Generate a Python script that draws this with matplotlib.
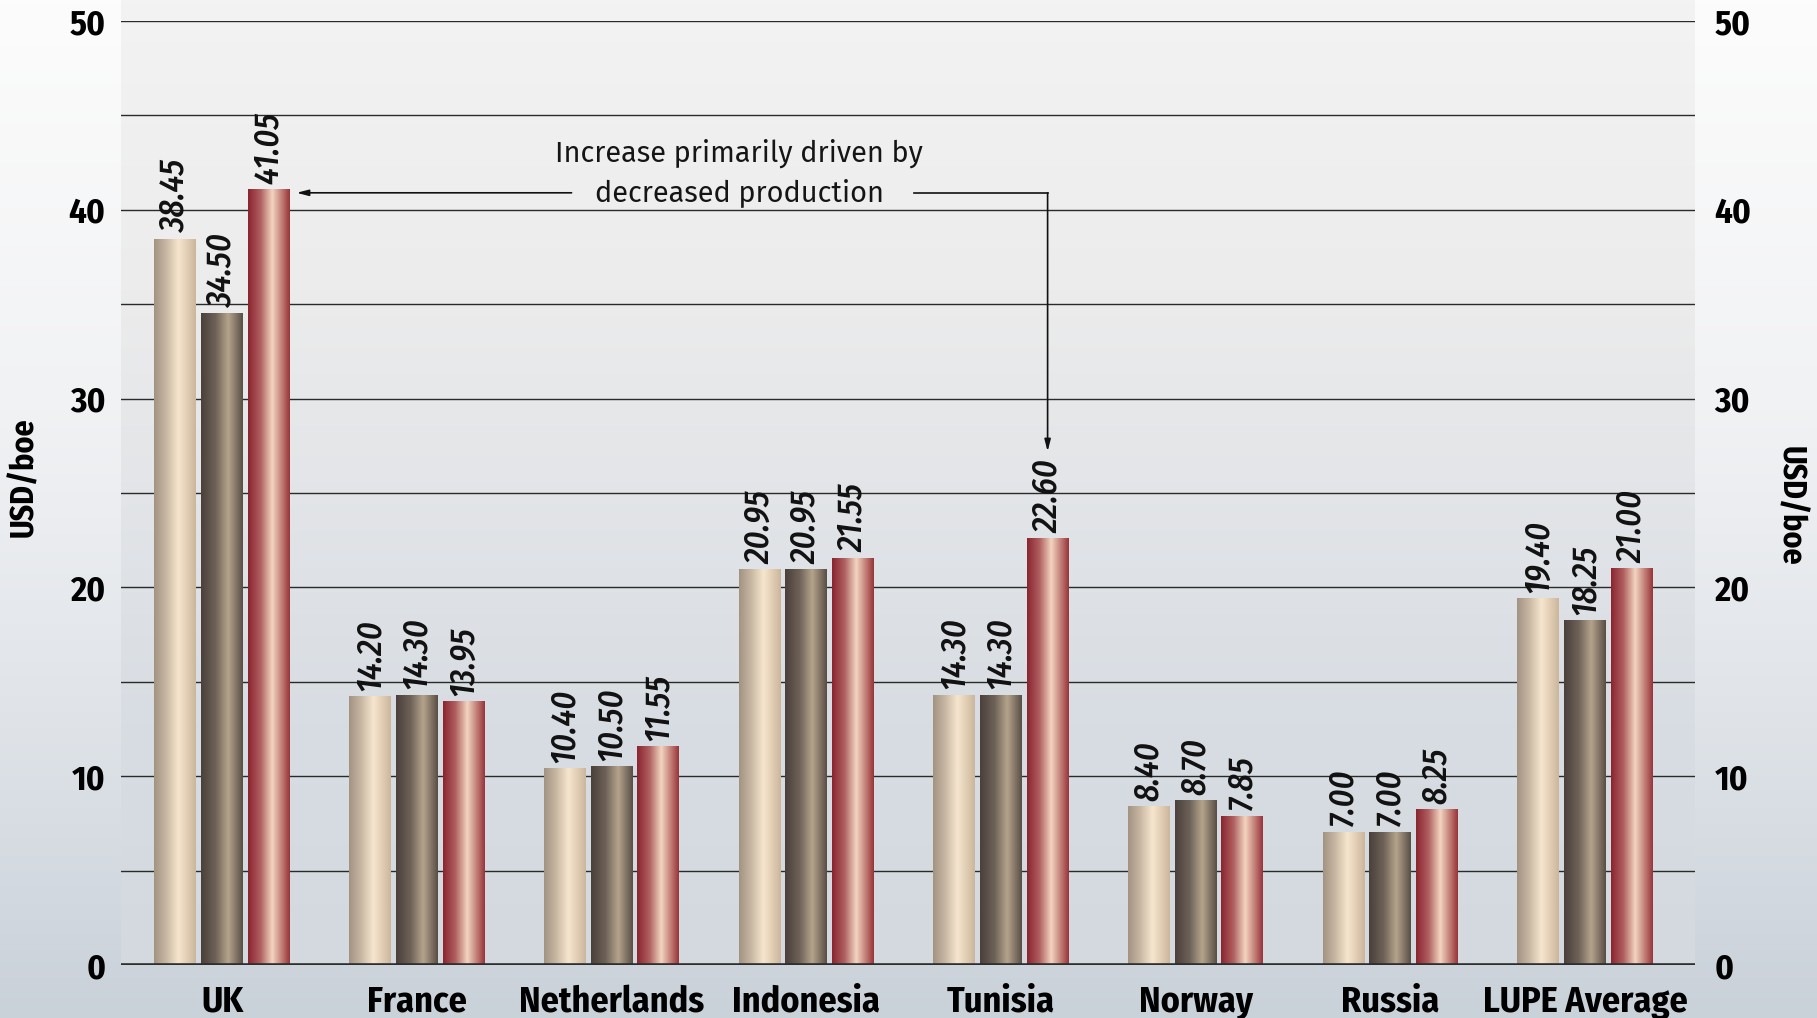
import matplotlib
matplotlib.use('Agg')
import matplotlib.pyplot as plt
import numpy as np
from matplotlib.colors import LinearSegmentedColormap

categories = ['UK', 'France', 'Netherlands', 'Indonesia', 'Tunisia',
              'Norway', 'Russia', 'LUPE Average']
series_a = [38.45, 14.20, 10.40, 20.95, 14.30, 8.40, 7.00, 19.40]
series_b = [34.50, 14.30, 10.50, 20.95, 14.30, 8.70, 7.00, 18.25]
series_c = [41.05, 13.95, 11.55, 21.55, 22.60, 7.85, 8.25, 21.00]
y_ticks = [0, 10, 20, 30, 40, 50]
note_lines = ['Increase primarily driven by', 'decreased production']

W, H = 1817, 1018
BAR_W = 0.215
OFFSET = 0.24
COND = ['Fira Sans Condensed', 'Asap Condensed', 'DejaVu Sans']
REG = ['Fira Sans', 'PT Sans', 'Open Sans', 'DejaVu Sans']

cmap_beige = LinearSegmentedColormap.from_list(
    'beige', [(0, '#a29282'), (0.3, '#c9b8a3'), (0.58, '#f7e6ce'), (1, '#cbb69c')])
cmap_dark = LinearSegmentedColormap.from_list(
    'dark', [(0, '#4a403a'), (0.35, '#6e6258'), (0.65, '#b5a48c'), (1, '#594d45')])
cmap_red = LinearSegmentedColormap.from_list(
    'red', [(0, '#8a2430'), (0.3, '#b06060'), (0.58, '#f3d5c0'), (1, '#983339')])


def gradient_fill(ax, bars, cmap):
    g = np.linspace(0, 1, 256).reshape(1, -1)
    for b in bars:
        x, y = b.get_x(), b.get_y()
        w, h = b.get_width(), b.get_height()
        ax.imshow(g, cmap=cmap, aspect='auto', extent=[x, x + w, y, y + h],
                  zorder=3, interpolation='bilinear')


fig = plt.figure(figsize=(W / 100, H / 100), dpi=100)

# background: page gradient + plot panel gradient
bg = fig.add_axes([0, 0, 1, 1], zorder=-10)
bg.axis('off')
page = LinearSegmentedColormap.from_list(
    'page', [(0, '#fcfcfc'), (0.4, '#f1f2f4'), (0.7, '#e0e4e9'), (1, '#c9d1d9')])
panel = LinearSegmentedColormap.from_list(
    'panel', [(0, '#f3f3f3'), (0.3, '#ececec'), (0.5, '#e3e5e8'), (0.75, '#d8dde3'), (1, '#d3d9df')])
col = np.linspace(0, 1, 256).reshape(-1, 1)
bg.imshow(col, cmap=page, aspect='auto', extent=[0, W, H, 0])
bg.imshow(col, cmap=panel, aspect='auto', extent=[121, 1695, 965, 0])
bg.set_xlim(0, W)
bg.set_ylim(H, 0)

ax = fig.add_axes([121 / W, 53 / H, (1695 - 121) / W, (965 - 21) / H])
ax.patch.set_alpha(0)
x = np.arange(len(categories))

for v in range(5, 51, 5):
    ax.axhline(v, color='#2a2a2a', lw=1.0, zorder=1)

bars_a = ax.bar(x - OFFSET, series_a, BAR_W, color='none', zorder=3)
bars_b = ax.bar(x, series_b, BAR_W, color='none', zorder=3)
bars_c = ax.bar(x + OFFSET, series_c, BAR_W, color='none', zorder=3)
gradient_fill(ax, bars_a, cmap_beige)
gradient_fill(ax, bars_b, cmap_dark)
gradient_fill(ax, bars_c, cmap_red)

ax.axhline(0, color='#2e2e2e', lw=2.6, zorder=4)

val_font = dict(family=COND, style='italic', weight='medium', size=24.5, color='#111111')
for bars, vals in [(bars_a, series_a), (bars_b, series_b), (bars_c, series_c)]:
    for b, v in zip(bars, vals):
        ax.text(b.get_x() + b.get_width() / 2, v + 0.3, f'{v:.2f}', rotation=90,
                ha='center', va='bottom', zorder=5, **val_font)

ax.set_xlim(-0.519, 7.565)
ax.set_ylim(0, 50)

for s in ax.spines.values():
    s.set_visible(False)

ax.set_xticks(x)
ax.set_xticklabels(categories, family=COND, weight='bold', size=26)
ax.tick_params(axis='x', length=0, pad=14)
ax.set_yticks(y_ticks)
ax.set_yticklabels([str(t) for t in y_ticks], family=COND, weight='bold', size=25)
ax.tick_params(axis='y', length=0, pad=11)

ax2 = ax.twinx()
ax2.set_ylim(0, 50)
ax2.set_yticks(y_ticks)
ax2.set_yticklabels([str(t) for t in y_ticks], family=COND, weight='bold', size=25)
ax2.tick_params(axis='y', length=0, pad=14)
for s in ax2.spines.values():
    s.set_visible(False)

lab_font = dict(family=COND, weight='bold', size=23)
fig.text(24 / W, 1 - 477 / H, 'USD/boe', rotation=90, ha='center', va='center', **lab_font)
fig.text(1790 / W, 1 - 506 / H, 'USD/boe', rotation=270, ha='center', va='center', **lab_font)

# annotation
line_y = series_c[0] - 0.15
uk_tip = 0 + OFFSET + BAR_W / 2 + 0.035
tun_x = 4 + OFFSET
arrow = dict(arrowstyle='-|>,head_length=0.7,head_width=0.18', color='#111111', lw=1.2,
             shrinkA=0, shrinkB=0)
ax.annotate('', xy=(uk_tip, line_y), xytext=(1.795, line_y), arrowprops=arrow, zorder=6)
ax.plot([3.556, tun_x], [line_y, line_y], color='#111111', lw=1.2, zorder=6)
ax.annotate('', xy=(tun_x, series_c[4] + 4.6), xytext=(tun_x, line_y), arrowprops=arrow, zorder=6)

note_font = dict(family=REG, size=20.8, color='#151515')
ax.text(2.657, 43.0, note_lines[0], ha='center', va='center', **note_font)
ax.text(2.657, line_y, note_lines[1], ha='center', va='center', **note_font)

fig.savefig('out.png', dpi=100)
